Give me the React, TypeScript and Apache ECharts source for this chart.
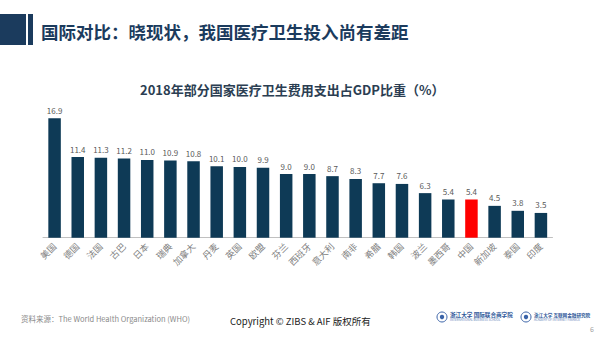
import React, { useEffect, useRef } from "react";
import * as echarts from "echarts";

const countries = ["美国", "德国", "法国", "古巴", "日本", "瑞典", "加拿大", "丹麦", "英国", "欧盟", "芬兰", "西班牙", "意大利", "南非", "希腊", "韩国", "波兰", "墨西哥", "中国", "新加坡", "泰国", "印度"];
const gdpShare = [16.9, 11.4, 11.3, 11.2, 11.0, 10.9, 10.8, 10.1, 10.0, 9.9, 9.0, 9.0, 8.7, 8.3, 7.7, 7.6, 6.3, 5.4, 5.4, 4.5, 3.8, 3.5];
const highlight = "中国";

const headerTitle = "国际对比：晓现状，我国医疗卫生投入尚有差距";
const chartTitle = "2018年部分国家医疗卫生费用支出占GDP比重（%）";
const sourceText = "资料来源：The World Health Organization (WHO)";
const copyrightText = "Copyright © ZIBS & AIF 版权所有";

const FONT = "'Noto Sans CJK SC', 'Noto Sans', sans-serif";
const NAVY = "#0e3a56";
const HEAD = "#1b3b5d";

function logo(x: number, cn: string, en: string, size: number) {
  return {
    type: "group",
    x,
    y: 317,
    children: [
      { type: "circle", shape: { cx: 5, cy: 0, r: 5 }, style: { fill: "#fff", stroke: "#3a63a8", lineWidth: 1 } },
      { type: "circle", shape: { cx: 5, cy: 0, r: 2.2 }, style: { fill: "#3a63a8" } },
      { type: "text", x: 13, y: -1.8, style: { text: cn, fontSize: size, fontWeight: "bold", fill: "#2e5799", fontFamily: FONT, verticalAlign: "middle" } },
      { type: "text", x: 13, y: 3, style: { text: en, fontSize: 3, fill: "#5a7bb5", fontFamily: FONT, verticalAlign: "middle" } },
    ],
  };
}

export default function App() {
  const ref = useRef<HTMLDivElement>(null);
  useEffect(() => {
    document.body.style.margin = "0";
    const chart = echarts.init(ref.current!, null, { renderer: "svg" });
    chart.setOption({
      animation: false,
      backgroundColor: "#ffffff",
      grid: { left: 43, right: 47.5, top: 96.2, bottom: 99.3, containLabel: false },
      xAxis: {
        type: "category",
        data: countries,
        axisLine: { show: true, lineStyle: { color: "#c0c0c0", width: 1 } },
        axisTick: { show: false },
        axisLabel: { interval: 0, rotate: 45, fontSize: 9, color: "#808080", margin: 7, fontFamily: FONT },
      },
      yAxis: { type: "value", min: 0, max: 20, show: false, splitLine: { show: false } },
      series: [
        {
          type: "bar",
          barWidth: 12.5,
          data: gdpShare.map((v, i) => ({ value: v, itemStyle: { color: countries[i] === highlight ? "#ff0000" : NAVY } })),
          label: {
            show: true,
            position: "top",
            distance: 4,
            fontSize: 8,
            color: "#595959",
            fontFamily: FONT,
            formatter: (p: any) => Number(p.value).toFixed(1),
          },
        },
      ],
      graphic: [
        { type: "rect", shape: { x: 0, y: 14, width: 26, height: 31 }, style: { fill: HEAD } },
        { type: "rect", shape: { x: 28, y: 14, width: 5, height: 31 }, style: { fill: HEAD } },
        { type: "text", x: 41, y: 31, style: { text: headerTitle, fontSize: 17.5, fontWeight: "bold", fill: HEAD, fontFamily: FONT, verticalAlign: "middle" } },
        { type: "text", x: 140, y: 89, style: { text: chartTitle, fontSize: 13, fontWeight: "bold", fill: "#2b3e52", fontFamily: FONT, verticalAlign: "middle" } },
        { type: "text", x: 21, y: 318.5, style: { text: sourceText, fontSize: 7.5, fill: "#8a8a8a", fontFamily: FONT, verticalAlign: "middle" } },
        { type: "text", x: 230, y: 320.5, style: { text: copyrightText, fontSize: 9.5, fill: "#222222", fontFamily: FONT, verticalAlign: "middle" } },
        logo(437, "浙江大学 国际联合商学院", "INTERNATIONAL BUSINESS SCHOOL", 5.6),
        logo(521, "浙江大学 互联网金融研究院", "ACADEMY OF INTERNET FINANCE", 4.6),
        { type: "text", x: 590, y: 329, style: { text: "6", fontSize: 7, fill: "#a0a0a0", fontFamily: FONT, verticalAlign: "middle" } },
      ],
    });
    return () => chart.dispose();
  }, []);
  return <div ref={ref} style={{ position: "fixed", left: 0, top: 0, width: 600, height: 337 }} />;
}
